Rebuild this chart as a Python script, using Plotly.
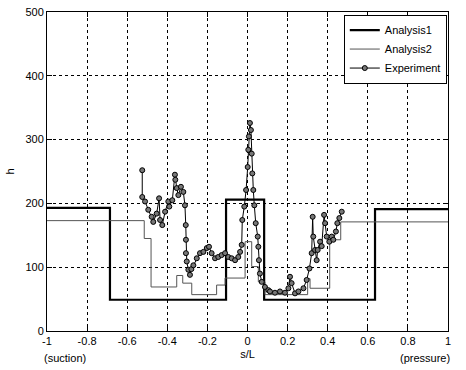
import plotly.graph_objects as go

# Analysis1 (thick step line): step edges and levels
a1_s = [-1.0, -0.686, -0.107, 0.083, 0.636, 1.0]
a1_h = [193, 49, 206, 49, 191, 191]

# Analysis2 (thin step line)
a2_s = [-1.0, -0.515, -0.481, -0.353, -0.323, -0.278, -0.154, -0.112, -0.012,
        0.021, 0.054, 0.087, 0.300, 0.312, 0.410, 0.465, 1.0]
a2_h = [173, 145, 69, 87, 75, 57, 72, 83, 140,
        101, 77, 57, 82, 67, 143, 171, 171]

# Experiment
exp_s = [-0.525, -0.525, -0.511, -0.495, -0.478, -0.470, -0.453, -0.441, -0.436, -0.425,
         -0.411, -0.395, -0.390, -0.375, -0.362, -0.360, -0.353, -0.345, -0.332, -0.320,
         -0.312, -0.308, -0.307, -0.307, -0.303, -0.295, -0.287, -0.280, -0.270, -0.253,
         -0.237, -0.220, -0.203, -0.192, -0.179, -0.162, -0.146, -0.129, -0.112, -0.096,
         -0.079, -0.062, -0.046, -0.037, -0.029, -0.026, -0.016, -0.007, 0.001, 0.004,
         0.007, 0.012, 0.017, 0.021, 0.024, 0.029, 0.034, 0.041, 0.051, 0.054,
         0.057, 0.062, 0.071, 0.087, 0.104, 0.112, 0.137, 0.162, 0.187, 0.204,
         0.212, 0.220, 0.237, 0.254, 0.279, 0.295, 0.309, 0.320, 0.325, 0.328,
         0.337, 0.345, 0.350, 0.362, 0.370, 0.382, 0.387, 0.395, 0.408, 0.420,
         0.428, 0.441, 0.448, 0.458, 0.470]
exp_h = [252, 210, 203, 190, 179, 171, 184, 208, 174, 166,
         187, 203, 195, 205, 245, 237, 224, 213, 226, 218,
         197, 166, 143, 122, 109, 96, 88, 97, 103, 114,
         122, 124, 130, 132, 122, 114, 116, 119, 122, 116,
         114, 111, 116, 124, 135, 174, 195, 221, 257, 284,
         305, 326, 315, 278, 247, 221, 197, 169, 148, 132,
         111, 90, 77, 69, 64, 62, 60, 62, 60, 67,
         85, 75, 59, 62, 67, 80, 98, 122, 179, 148,
         127, 111, 127, 140, 133, 182, 169, 148, 140, 148,
         143, 156, 169, 177, 187]

x_ticks = [-1, -0.8, -0.6, -0.4, -0.2, 0, 0.2, 0.4, 0.6, 0.8, 1]
x_tick_labels = ["-1", "-0.8", "-0.6", "-0.4", "-0.2", "0", "0.2", "0.4", "0.6", "0.8", "1"]
y_ticks = [0, 100, 200, 300, 400, 500]

FONT = "Liberation Sans, Arial, sans-serif"

fig = go.Figure()
fig.add_trace(go.Scatter(x=a1_s, y=a1_h, mode="lines", name="Analysis1",
                         line=dict(color="black", width=2.2, shape="hv")))
fig.add_trace(go.Scatter(x=a2_s, y=a2_h, mode="lines", name="Analysis2",
                         line=dict(color="#555555", width=1, shape="hv")))
fig.add_trace(go.Scatter(x=exp_s, y=exp_h, mode="lines+markers", name="Experiment",
                         line=dict(color="black", width=1),
                         marker=dict(symbol="circle", size=5, color="#777777",
                                     line=dict(color="black", width=1))))

axis_common = dict(showline=True, linecolor="black", linewidth=1, mirror="ticks",
                   ticks="inside", ticklen=5, tickcolor="black",
                   showgrid=True, gridcolor="black", gridwidth=1, griddash="dot",
                   zeroline=False, automargin=False,
                   tickfont=dict(family=FONT, size=11, color="black"))

fig.update_xaxes(range=[-1, 1], tickvals=x_ticks, ticktext=x_tick_labels,
                 title=dict(text="s/L", font=dict(family=FONT, size=11, color="black"), standoff=4),
                 **axis_common)
fig.update_yaxes(range=[0, 500], tickvals=y_ticks,
                 title=dict(text="h", font=dict(family=FONT, size=11, color="black"), standoff=8),
                 **axis_common)

fig.add_annotation(text="(suction)", xref="paper", yref="paper", x=0.045, y=0,
                   yshift=-19, yanchor="top", xanchor="center", showarrow=False,
                   font=dict(family=FONT, size=11, color="black"))
fig.add_annotation(text="(pressure)", xref="paper", yref="paper", x=1.0, y=0,
                   xshift=4, yshift=-19, yanchor="top", xanchor="right", showarrow=False,
                   font=dict(family=FONT, size=11, color="black"))

fig.update_layout(
    width=466, height=370,
    margin=dict(l=47, r=18, t=12, b=39, autoexpand=False),
    paper_bgcolor="white", plot_bgcolor="white",
    showlegend=True,
    legend=dict(x=0.997, y=0.992, xanchor="right", yanchor="top",
                bgcolor="white", bordercolor="black", borderwidth=1,
                font=dict(family=FONT, size=11, color="black"),
                tracegroupgap=0, itemwidth=30),
    font=dict(family=FONT, size=11, color="black"),
)

fig.write_html("out.html", config={"displayModeBar": False},
               post_script="document.body.style.margin='0';document.body.style.padding='0';")
